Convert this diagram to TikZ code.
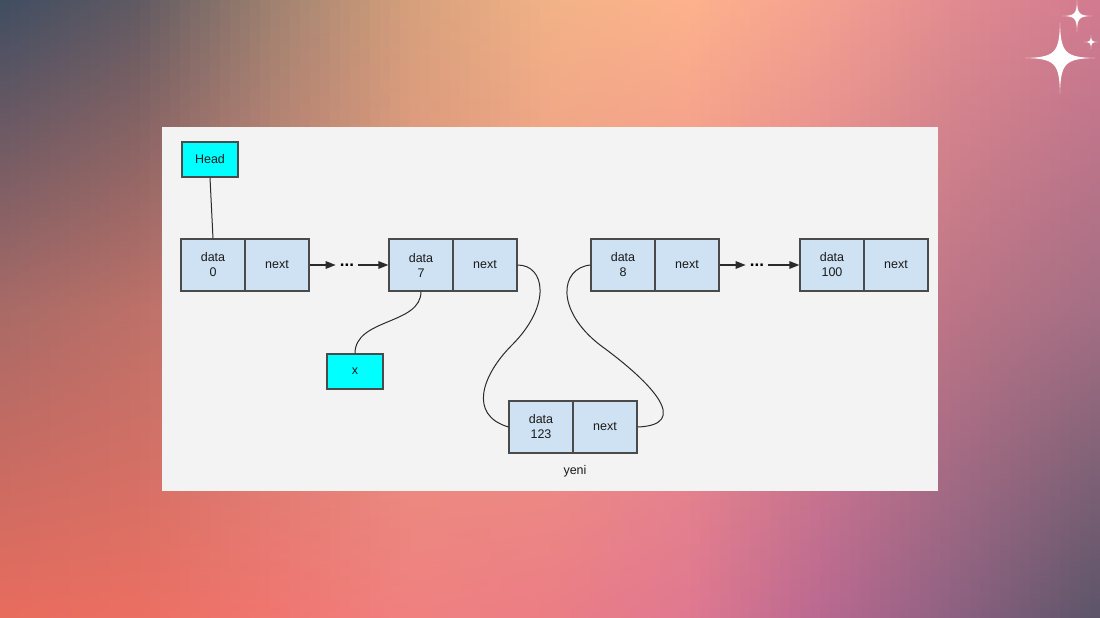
\documentclass[tikz,border=0pt]{standalone}
\usepackage{fontspec}
\setmainfont{Liberation Sans}
\usetikzlibrary{arrows.meta}
\definecolor{T0}{HTML}{3F4D62}\definecolor{T1}{HTML}{605A62}\definecolor{T2}{HTML}{A08270}
\definecolor{T3}{HTML}{D6A07C}\definecolor{T4}{HTML}{F2B287}\definecolor{T5}{HTML}{FDB28C}
\definecolor{T6}{HTML}{F4A090}\definecolor{T7}{HTML}{E08A90}\definecolor{T8}{HTML}{D27A90}
\definecolor{M0}{HTML}{A86A66}\definecolor{M1}{HTML}{BC7068}\definecolor{M2}{HTML}{D08478}
\definecolor{M3}{HTML}{E4957E}\definecolor{M4}{HTML}{EE9884}\definecolor{M5}{HTML}{EA8E8A}
\definecolor{M6}{HTML}{D8808C}\definecolor{M7}{HTML}{BA7486}\definecolor{M8}{HTML}{A46E84}
\definecolor{B0}{HTML}{E86C5E}\definecolor{B1}{HTML}{EB6F62}\definecolor{B2}{HTML}{F07670}
\definecolor{B3}{HTML}{F08080}\definecolor{B4}{HTML}{EB7D85}\definecolor{B5}{HTML}{E07890}
\definecolor{B6}{HTML}{B86890}\definecolor{B7}{HTML}{8A6080}\definecolor{B8}{HTML}{5A5468}
\definecolor{panel}{HTML}{F3F3F3}
\definecolor{cellblue}{HTML}{CFE2F3}
\definecolor{bordergray}{HTML}{4A4A4A}
\definecolor{linegray}{HTML}{2A2A2A}
\definecolor{textdark}{HTML}{1A1A1A}
\definecolor{ptrcyan}{HTML}{00FFFF}
\tikzset{
  cell/.style={draw=bordergray, fill=cellblue, line width=1.1pt, minimum width=64pt,
    minimum height=52pt, inner sep=0pt, align=center, text=textdark,
    font=\fontsize{12.5}{15}\selectfont},
  ptr/.style={draw=bordergray, fill=ptrcyan, line width=1.1pt, minimum width=56pt,
    minimum height=35pt, inner sep=0pt, text=textdark, font=\fontsize{12.5}{15}\selectfont},
  link/.style={draw=linegray, line width=1pt},
  arr/.style={draw=linegray, line width=1.4pt, -{Triangle[length=10pt,width=7.5pt]}},
  dotsnode/.style={inner sep=4pt, text=black, font=\fontsize{17}{17}\selectfont\bfseries},
  lbl/.style={text=textdark, font=\fontsize{12.5}{15}\selectfont},
  spark/.style={fill=white}
}
\newcommand{\sparkle}[4]{% cx cy rx ry
  \fill[spark] (#1,#2-#4) .. controls (#1+0.02*#3,#2-0.14*#4) and (#1+0.14*#3,#2-0.02*#4) .. (#1+#3,#2)
    .. controls (#1+0.14*#3,#2+0.02*#4) and (#1+0.02*#3,#2+0.14*#4) .. (#1,#2+#4)
    .. controls (#1-0.02*#3,#2+0.14*#4) and (#1-0.14*#3,#2+0.02*#4) .. (#1-#3,#2)
    .. controls (#1-0.14*#3,#2-0.02*#4) and (#1-0.02*#3,#2-0.14*#4) .. cycle;}
\begin{document}
\begin{tikzpicture}[x=1pt,y=-1pt]
\useasboundingbox (0,0) rectangle (1100,618);
\begin{scope}
\clip (0,0) rectangle (1100,618);
\foreach \i in {0,...,109}{
  \pgfmathsetmacro{\xc}{\i*10+5}
  \pgfmathtruncatemacro{\s}{min(7,floor(\xc/137.5))}
  \pgfmathtruncatemacro{\sn}{\s+1}
  \pgfmathtruncatemacro{\f}{round((\xc-\s*137.5)/137.5*100)}
  \colorlet{ct}{T\sn!\f!T\s}
  \colorlet{cm}{M\sn!\f!M\s}
  \colorlet{cb}{B\sn!\f!B\s}
  \shade[top color=ct,bottom color=cb,middle color=cm] (\i*10,0) rectangle (\i*10+10.8,618);
}
% sparkles
\sparkle{1060}{58}{35}{36}
\sparkle{1077}{16}{15}{16}
\sparkle{1091}{42}{7}{7}
\end{scope}
% panel
\fill[panel] (162,127) rectangle (938,491);
% nodes
\node[ptr] (head) at (210,159.5) {Head};
\node[ptr] (x) at (355,371.5) {x};
\node[cell] (n0d) at (213,265) {data\\0};
\node[cell] (n0n) at (277,265) {next};
\node[cell] (n7d) at (421,265) {data\\7};
\node[cell] (n7n) at (485,265) {next};
\node[cell] (n8d) at (623,265) {data\\8};
\node[cell] (n8n) at (687,265) {next};
\node[cell] (n100d) at (832,265) {data\\100};
\node[cell] (n100n) at (896,265) {next};
\node[cell] (yd) at (541,427) {data\\123};
\node[cell] (yn) at (605,427) {next};
\node[lbl] (yenilbl) at (575,471) {yeni};
\node[dotsnode] (d1) at (347,265) {...};
\node[dotsnode] (d2) at (757,265) {...};
% connectors
\draw[link] (head.south) -- (n0d.north);
\draw[arr] (n0n.east) -- (d1.west);
\draw[arr] (d1.east) -- (n7d.west);
\draw[arr] (n8n.east) -- (d2.west);
\draw[arr] (d2.east) -- (n100d.west);
\draw[link] (n7d.south) .. controls (421,325) and (355,318) .. (x.north);
\draw[link] (n7n.east) .. controls (545,265) and (552,305) .. (512,345)
  .. controls (482,375) and (468,415) .. (yd.west);
\draw[link] (n8d.west) .. controls (560,268) and (555,310) .. (600,345)
  .. controls (655,385) and (690,425) .. (yn.east);
\end{tikzpicture}
\end{document}
